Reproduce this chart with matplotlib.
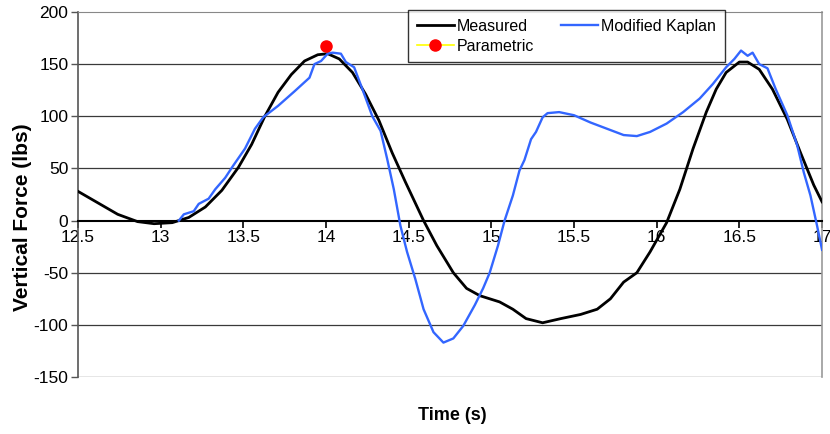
import matplotlib

matplotlib.use("Agg")
import matplotlib.pyplot as plt  # noqa: E402

plt.rcParams["font.family"] = ["Liberation Sans", "DejaVu Sans"]
plt.rcParams["axes.unicode_minus"] = False

# measured vertical force (black)
measured_t = [12.50, 12.62, 12.74, 12.86, 12.96, 13.07, 13.17, 13.27, 13.37, 13.47,
              13.55, 13.63, 13.71, 13.79, 13.87, 13.95, 14.01, 14.08, 14.16, 14.24,
              14.32, 14.40, 14.48, 14.59, 14.67, 14.77, 14.85, 14.93, 15.05, 15.13,
              15.21, 15.31, 15.42, 15.54, 15.64, 15.72, 15.80, 15.88, 15.96, 16.06,
              16.14, 16.22, 16.30, 16.36, 16.42, 16.50, 16.55, 16.62, 16.70, 16.79,
              16.87, 16.95, 17.00]
measured_f = [28, 17, 6, -1, -3, -2, 3, 13, 29, 51,
              73, 100, 123, 140, 153, 159, 160, 155, 142, 121,
              96, 65, 37, 0, -24, -50, -65, -72, -78, -85,
              -94, -98, -94, -90, -85, -75, -59, -50, -30, -2,
              30, 69, 104, 126, 142, 152, 152, 145, 126, 97,
              65, 34, 18]

# modified Kaplan model (blue)
kaplan_t = [13.11, 13.14, 13.20, 13.23, 13.29, 13.33, 13.39, 13.44, 13.51, 13.57,
            13.62, 13.71, 13.81, 13.90, 13.93, 13.97, 14.01, 14.04, 14.09, 14.12,
            14.17, 14.22, 14.28, 14.33, 14.37, 14.41, 14.45, 14.49, 14.54, 14.59,
            14.65, 14.71, 14.77, 14.83, 14.90, 14.95, 14.99, 15.04, 15.08, 15.13,
            15.17, 15.20, 15.24, 15.27, 15.31, 15.34, 15.41, 15.50, 15.60, 15.70,
            15.80, 15.88, 15.96, 16.06, 16.16, 16.26, 16.34, 16.42, 16.47, 16.51,
            16.55, 16.58, 16.62, 16.67, 16.72, 16.79, 16.85, 16.89, 16.93, 16.97,
            17.00]
kaplan_f = [0, 6, 9, 16, 21, 30, 41, 53, 69, 88,
            99, 110, 124, 137, 150, 153, 160, 161, 160, 152,
            147, 126, 100, 86, 59, 30, -5, -30, -56, -85,
            -107, -117, -113, -101, -81, -65, -50, -24, 0, 24,
            48, 58, 78, 85, 99, 103, 104, 101, 94, 88,
            82, 81, 85, 93, 104, 117, 131, 147, 155, 163,
            158, 161, 150, 146, 126, 101, 72, 46, 24, -5,
            -28]

# parametric peak estimate
param_t = [14.0]
param_f = [167]

fig = plt.figure(figsize=(8.3, 4.34), dpi=100)
ax = fig.add_axes([0.094, 0.1313, 0.8964, 0.8411])

for y in (-150, -100, -50, 50, 100, 150):
    ax.axhline(y, color="#3a3a3a", lw=0.9, zorder=1)

ax.plot(measured_t, measured_f, color="black", lw=2.0, label="Measured", zorder=3)
ax.plot(kaplan_t, kaplan_f, color="#3366ff", lw=1.7, label="Modified Kaplan", zorder=4)
ax.plot(param_t, param_f, color="#ffff00", marker="o", ms=8, mfc="#ff0000", mec="#ff0000",
        lw=1.2, label="Parametric", zorder=5)

ax.set_xlim(12.5, 17.0)
ax.set_ylim(-150, 200)
ax.set_xticks([12.5, 13, 13.5, 14, 14.5, 15, 15.5, 16, 16.5, 17])
ax.set_xticklabels(["12.5", "13", "13.5", "14", "14.5", "15", "15.5", "16", "16.5", "17"])
ax.set_yticks([-150, -100, -50, 0, 50, 100, 150, 200])

ax.spines["bottom"].set_position(("data", 0))
ax.spines["bottom"].set_color("black")
ax.spines["bottom"].set_linewidth(1.5)
ax.spines["left"].set_color("#555555")
ax.spines["left"].set_linewidth(1.2)
ax.spines["top"].set_color("#888888")
ax.spines["right"].set_color("#999999")
ax.spines["right"].set_linewidth(1.2)

ax.tick_params(axis="x", direction="out", length=5, width=1.2, color="black",
               labelsize=12.5, pad=2)
ax.tick_params(axis="y", direction="out", length=5, width=1.0, color="#555555",
               labelsize=12.5, pad=2)

ax.set_ylabel("Vertical Force (lbs)", fontsize=15, fontweight="bold")
ax.yaxis.set_label_coords(22 / 830, 0.5, transform=fig.transFigure)
ax.yaxis.label.set_va("center")
ax.set_xlabel("Time (s)", fontsize=13, fontweight="bold")
ax.xaxis.set_label_coords(452 / 830, 1 - 416 / 434, transform=fig.transFigure)
ax.xaxis.label.set_va("center")

h, lab = ax.get_legend_handles_labels()
order = [0, 2, 1]
leg = fig.legend([h[i] for i in order], [lab[i] for i in order],
                 loc="upper left", bbox_to_anchor=(408 / 830, 1 - 57 / 434, 317 / 830, 47 / 434),
                 mode="expand", ncol=2, fontsize=11.5, frameon=True, fancybox=False,
                 handlelength=2.3, handletextpad=0.2, borderpad=0.55, labelspacing=0.3,
                 borderaxespad=0)
leg.get_frame().set_edgecolor("black")
leg.get_frame().set_linewidth(1.0)

fig.savefig("out.png", dpi=100)
